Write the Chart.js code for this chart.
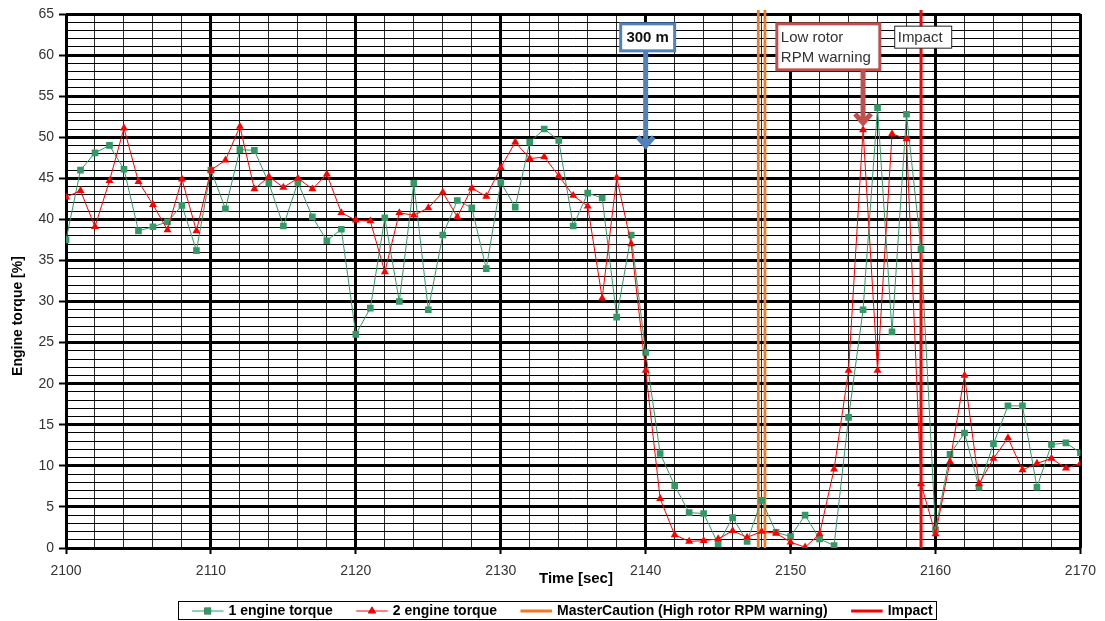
<!DOCTYPE html>
<html>
<head>
<meta charset="utf-8">
<script src="https://cdn.jsdelivr.net/npm/chart.js@4.4.1/dist/chart.umd.min.js"></script>
<style>
  html, body { margin: 0; padding: 0; background: #fff; }
  #chart { display: block; }
</style>
</head>
<body>
<canvas id="chart" width="1105" height="621"></canvas>
<script>
// ── data ─────────────────────────────────────────────────────────────────────
const seconds = [
  2100, 2101, 2102, 2103, 2104, 2105, 2106, 2107, 2108, 2109,
  2110, 2111, 2112, 2113, 2114, 2115, 2116, 2117, 2118, 2119,
  2120, 2121, 2122, 2123, 2124, 2125, 2126, 2127, 2128, 2129,
  2130, 2131, 2132, 2133, 2134, 2135, 2136, 2137, 2138, 2139,
  2140, 2141, 2142, 2143, 2144, 2145, 2146, 2147, 2148, 2149,
  2150, 2151, 2152, 2153, 2154, 2155, 2156, 2157, 2158, 2159,
  2160, 2161, 2162, 2163, 2164, 2165, 2166, 2167, 2168, 2169, 2170
];
const engine1 = [
  37.5, 46.0, 48.1, 49.0, 46.1, 38.6, 39.1, 39.7, 41.7, 36.2,
  46.0, 41.3, 48.5, 48.4, 44.4, 39.2, 44.5, 40.3, 37.4, 38.8,
  26.0, 29.2, 40.2, 30.0, 44.4, 29.0, 38.1, 42.3, 41.4, 34.0,
  44.5, 41.5, 49.4, 51.0, 49.6, 39.2, 43.2, 42.6, 28.1, 38.1,
  23.8, 11.5, 7.6, 4.3, 4.2, 0.5, 3.7, 0.8, 5.8, 1.9,
  1.4, 4.0, 1.1, 0.3, 15.9, 29.0, 53.6, 26.3, 52.8, 36.4,
  2.2, 11.4, 14.0, 7.4, 12.7, 17.3, 17.3, 7.4, 12.6, 12.8, 11.6
];
const engine2 = [
  42.7, 43.5, 39.1, 44.7, 51.1, 44.6, 41.8, 38.7, 44.9, 38.6,
  46.0, 47.2, 51.3, 43.7, 45.2, 43.9, 45.0, 43.7, 45.5, 40.8,
  39.9, 39.8, 33.6, 40.8, 40.5, 41.4, 43.3, 40.3, 43.8, 42.8,
  46.3, 49.4, 47.4, 47.6, 45.3, 42.9, 41.6, 30.4, 45.1, 37.0,
  21.6, 6.0, 1.6, 0.8, 0.9, 1.1, 2.1, 1.3, 2.0, 1.8,
  0.7, 0.1, 1.7, 9.6, 21.6, 50.9, 21.6, 50.4, 49.8, 7.8,
  1.7, 10.5, 21.0, 7.8, 10.9, 13.4, 9.5, 10.3, 10.9, 9.7, 10.3
];
const masterCautionAt = [2147.77, 2148.23];
const impactAt = [2159];
const xTickLabels = [2100, 2110, 2120, 2130, 2140, 2150, 2160, 2170];
const yTickLabels = [0, 5, 10, 15, 20, 25, 30, 35, 40, 45, 50, 55, 60, 65];

const FONT = "'Liberation Sans', Arial, sans-serif";

// vertical marker lines, broken by a null between each one
function verticalLines(xs) {
  const pts = [];
  xs.forEach((x, i) => {
    if (i) pts.push({ x: x, y: null });
    pts.push({ x: x, y: 0 }, { x: x, y: 65.5 });
  });
  return pts;
}

function openArrow(ctx, px, fromY, tipY, color) {
  ctx.strokeStyle = color;
  ctx.lineWidth = 5;
  ctx.lineCap = 'butt';
  ctx.beginPath();
  ctx.moveTo(px, fromY);
  ctx.lineTo(px, tipY - 3);
  ctx.stroke();
  ctx.lineJoin = 'miter';
  ctx.beginPath();
  ctx.moveTo(px - 8, tipY - 11);
  ctx.lineTo(px, tipY - 2);
  ctx.lineTo(px + 8, tipY - 11);
  ctx.stroke();
}

function boxAt(ctx, x, y, w, h, color, lw) {
  ctx.fillStyle = '#fff';
  ctx.fillRect(x, y, w, h);
  ctx.strokeStyle = color;
  ctx.lineWidth = lw;
  ctx.strokeRect(x, y, w, h);
}

// ── annotations, titles and the framed legend ───────────────────────────────
const decor = {
  id: 'decor',
  afterDatasetsDraw(chart) {
    const { ctx, scales: { x, y } } = chart;
    ctx.save();
    ctx.textBaseline = 'middle';

    // 300 m
    const bx = x.getPixelForValue(2140);
    const btop = y.getPixelForValue(63.8);
    openArrow(ctx, bx, btop + 26, y.getPixelForValue(48.7), '#4F81BD');
    boxAt(ctx, bx - 25, btop, 54, 27, '#4F81BD', 3);
    ctx.fillStyle = '#111';
    ctx.font = 'bold 15px ' + FONT;
    ctx.textAlign = 'center';
    ctx.fillText('300 m', bx + 2, btop + 14);

    // Low rotor RPM warning
    const lx = x.getPixelForValue(2149.05);
    const ltop = y.getPixelForValue(63.8);
    openArrow(ctx, x.getPixelForValue(2155), ltop + 45, y.getPixelForValue(51.5), '#C0504D');
    boxAt(ctx, lx, ltop, 103, 46, '#C0504D', 3);
    ctx.fillStyle = '#333';
    ctx.font = '15px ' + FONT;
    ctx.textAlign = 'left';
    ctx.fillText('Low rotor', lx + 4, ltop + 14);
    ctx.fillText('RPM warning', lx + 4, ltop + 34);

    // Impact
    const ix = x.getPixelForValue(2157.15);
    const itop = y.getPixelForValue(63.58);
    boxAt(ctx, ix + 0.5, itop + 0.5, 57, 22, '#222', 1);
    ctx.fillStyle = '#333';
    ctx.fillText('Impact', ix + 3.5, itop + 12);
    ctx.restore();
  },
  afterDraw(chart) {
    const { ctx } = chart;
    ctx.save();
    ctx.fillStyle = '#000';
    ctx.textBaseline = 'middle';

    // axis titles
    ctx.font = 'bold 15px ' + FONT;
    ctx.textAlign = 'center';
    ctx.fillText('Time [sec]', 576, 579);
    ctx.save();
    ctx.translate(18, 316);
    ctx.rotate(-Math.PI / 2);
    ctx.font = 'bold 14px ' + FONT;
    ctx.fillText('Engine torque [%]', 0, 0);
    ctx.restore();

    // legend
    ctx.strokeStyle = '#000';
    ctx.lineWidth = 1;
    ctx.strokeRect(178.5, 601.5, 758, 18);
    ctx.font = 'bold 14px ' + FONT;
    ctx.textAlign = 'left';
    let lx = 192;
    const ly = 611;
    chart.data.datasets.forEach(ds => {
      ctx.strokeStyle = ds.borderColor;
      ctx.lineWidth = ds.pointRadius ? 1 : 3;
      ctx.beginPath();
      ctx.moveTo(lx, ly);
      ctx.lineTo(lx + 31.5, ly);
      ctx.stroke();
      if (ds.pointRadius) {
        Chart.helpers.drawPoint(ctx, {
          pointStyle: ds.pointStyle, radius: ds.pointRadius, borderWidth: 0,
          rotation: 0
        }, lx + 15.75, ly);
        ctx.fillStyle = ds.pointBackgroundColor;
        ctx.fill();
      }
      lx += 36.5;
      ctx.fillStyle = '#000';
      ctx.fillText(ds.label, lx, ly);
      lx += ctx.measureText(ds.label).width + 23.5;
    });
    ctx.restore();
  }
};

const isMajorX = c => c.tick && c.tick.value % 10 === 0;
const isMajorY = c => c.tick && c.tick.value % 5 === 0;

new Chart(document.getElementById('chart'), {
  type: 'line',
  data: {
    datasets: [
      {
        label: '1 engine torque',
        data: seconds.map((t, i) => ({ x: t, y: engine1[i] })),
        borderColor: '#339966',
        backgroundColor: '#339966',
        pointBackgroundColor: '#339966',
        borderWidth: 1,
        pointStyle: 'rect',
        pointRadius: 4.7,
        pointBorderWidth: 0,
        tension: 0,
        order: 2
      },
      {
        label: '2 engine torque',
        data: seconds.map((t, i) => ({ x: t, y: engine2[i] })),
        borderColor: '#FF0000',
        backgroundColor: '#FF0000',
        pointBackgroundColor: '#FF0000',
        borderWidth: 1,
        pointStyle: 'triangle',
        pointRadius: 4.6,
        pointBorderWidth: 0,
        tension: 0,
        order: 1
      },
      {
        label: 'MasterCaution (High rotor RPM warning)',
        data: verticalLines(masterCautionAt),
        borderColor: '#F5781E',
        borderWidth: 2.7,
        pointRadius: 0,
        spanGaps: false,
        clip: false,
        order: 3
      },
      {
        label: 'Impact',
        data: verticalLines(impactAt),
        borderColor: '#FF0000',
        borderWidth: 3,
        pointRadius: 0,
        spanGaps: false,
        clip: false,
        order: 3
      }
    ]
  },
  options: {
    responsive: false,
    devicePixelRatio: 1,
    animation: false,
    events: [],
    layout: { padding: { left: 0, top: 14, right: 22, bottom: 0 } },
    plugins: { legend: { display: false }, tooltip: { enabled: false } },
    scales: {
      x: {
        type: 'linear',
        min: 2100,
        max: 2170,
        afterFit: s => { s.height = 73; },
        border: { display: false },
        ticks: {
          stepSize: 2,
          autoSkip: false,
          maxRotation: 0,
          padding: 9,
          color: '#333',
          font: { family: FONT, size: 14 },
          callback: v => xTickLabels.includes(v) ? String(v) : ''
        },
        grid: {
          color: c => isMajorX(c) ? '#000' : '#2a2a2a',
          lineWidth: c => isMajorX(c) ? 3 : 1,
          tickLength: 6,
          tickWidth: 2,
          tickColor: c => isMajorX(c) ? '#000' : 'rgba(0,0,0,0)'
        }
      },
      y: {
        min: 0,
        max: 65,
        afterFit: s => { s.width = 66; },
        border: { display: false },
        ticks: {
          stepSize: 1,
          autoSkip: false,
          padding: 5,
          color: '#333',
          font: { family: FONT, size: 14 },
          callback: v => yTickLabels.includes(v) ? String(v) : ''
        },
        grid: {
          color: '#000',
          lineWidth: c => isMajorY(c) ? 3 : 1,
          tickLength: 7,
          tickWidth: 2,
          tickColor: c => isMajorY(c) ? '#000' : 'rgba(0,0,0,0)'
        }
      }
    }
  },
  plugins: [decor]
});
</script>
</body>
</html>
